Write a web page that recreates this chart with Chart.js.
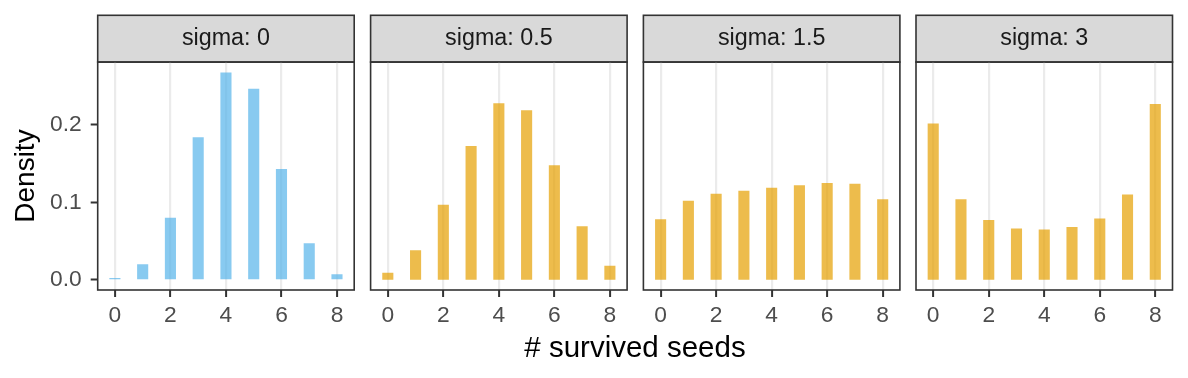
<!DOCTYPE html>
<html>
<head>
<meta charset="utf-8">
<script src="https://cdn.jsdelivr.net/npm/chart.js@4.4.1/dist/chart.umd.min.js"></script>
<style>
  html, body { margin: 0; padding: 0; background: #ffffff; }
  #wrap { position: relative; width: 1188px; height: 378px; overflow: hidden; background: #ffffff; }
  canvas { position: absolute; top: 0; }
  #xtitle { position: absolute; left: 335px; width: 600px; top: 332px; text-align: center;
            font-family: "Liberation Sans", Arial, sans-serif; font-size: 29.5px; line-height: 29.5px; color: #000; }
</style>
</head>
<body>
<div id="wrap">
  <canvas id="c0"></canvas>
  <canvas id="c1"></canvas>
  <canvas id="c2"></canvas>
  <canvas id="c3"></canvas>
  <div id="xtitle"># survived seeds</div>
</div>
<script>
// ---- data ----
const seeds = [0, 1, 2, 3, 4, 5, 6, 7, 8];
const sigmas = [0, 0.5, 1.5, 3];
const densSigma0   = [0.002, 0.020, 0.080, 0.184, 0.268, 0.247, 0.143, 0.047, 0.007];
const densSigma05  = [0.009, 0.038, 0.097, 0.173, 0.228, 0.219, 0.148, 0.069, 0.018];
const densSigma15  = [0.078, 0.102, 0.111, 0.115, 0.119, 0.122, 0.125, 0.124, 0.104];
const densSigma3   = [0.202, 0.104, 0.077, 0.066, 0.065, 0.068, 0.079, 0.110, 0.227];
const xTickValues = [0, 2, 4, 6, 8];
const yTickValues = [0, 0.1, 0.2];
const xAxisTitle = '# survived seeds';
const yAxisTitle = 'Density';

// ---- style / layout ----
const FONT = '"Liberation Sans", Arial, sans-serif';
const panelSeries = [densSigma0, densSigma05, densSigma15, densSigma3];
const panelColors = ['rgba(86,180,233,0.7)', 'rgba(230,159,0,0.7)', 'rgba(230,159,0,0.7)', 'rgba(230,159,0,0.7)'];
const panelLeft = [97.7, 370.6, 643.4, 916];
const panelWidth = 256.5;
const stripTop = 15.3;
const xAxisH = 88;     // 378 - 290
const yAxisW = 97.7;
const H = 378;

const allMax = Math.max(...panelSeries.flat());
const yMin = -allMax * 0.05, yMax = allMax * 1.05;
const xMin = -0.2 - 0.42, xMax = 8.2 + 0.42;

Chart.defaults.font.family = FONT;

const facetPlugin = {
  id: 'facet',
  beforeDraw(chart) {
    const ctx = chart.ctx, a = chart.chartArea;
    ctx.save();
    ctx.fillStyle = '#D9D9D9';
    ctx.fillRect(a.left, stripTop, a.right - a.left, a.top - stripTop);
    ctx.strokeStyle = '#333333';
    ctx.lineWidth = 1.6;
    ctx.strokeRect(a.left, stripTop, a.right - a.left, a.top - stripTop);
    ctx.restore();
  },
  afterDraw(chart) {
    const ctx = chart.ctx, a = chart.chartArea;
    ctx.save();
    ctx.strokeStyle = '#333333';
    ctx.lineWidth = 1.6;
    ctx.strokeRect(a.left, a.top, a.right - a.left, a.bottom - a.top);
    ctx.restore();
  }
};

for (let i = 0; i < 4; i++) {
  const first = i === 0;
  const L = panelLeft[i], R = L + panelWidth;
  const canvasLeft = first ? 0 : Math.floor(L) - 2;
  const canvasRight = Math.ceil(R) + 3;
  const W = canvasRight - canvasLeft;
  const cv = document.getElementById('c' + i);
  cv.width = W; cv.height = H;
  cv.style.left = canvasLeft + 'px';
  cv.style.width = W + 'px'; cv.style.height = H + 'px';

  const padLeft = first ? 0 : (L - canvasLeft);
  const padRight = canvasRight - R;

  new Chart(cv, {
    type: 'bar',
    data: {
      datasets: [{
        data: seeds.map((s, k) => ({ x: s, y: panelSeries[i][k] })),
        backgroundColor: panelColors[i],
        borderWidth: 0,
        categoryPercentage: 1.0,
        barPercentage: 0.4
      }]
    },
    options: {
      responsive: false,
      animation: false,
      devicePixelRatio: 1,
      layout: { padding: { left: padLeft, right: padRight, top: stripTop, bottom: 0 } },
      plugins: {
        legend: { display: false },
        tooltip: { enabled: false },
        title: {
          display: true,
          text: 'sigma: ' + sigmas[i],
          fullSize: false,
          color: '#1A1A1A',
          font: { size: 23.3, weight: 'normal', lineHeight: 1.2 },
          padding: { top: 9.4, bottom: 9.4 }
        }
      },
      scales: {
        x: {
          type: 'linear',
          min: xMin, max: xMax,
          offset: false,
          afterBuildTicks: (s) => { s.ticks = xTickValues.map(v => ({ value: v })); },
          afterFit: (s) => { s.height = xAxisH; },
          grid: {
            display: true, offset: false, drawOnChartArea: true,
            color: '#EBEBEB', lineWidth: 2.2,
            tickColor: '#333333', tickWidth: 2, tickLength: 7
          },
          border: { display: false },
          ticks: {
            color: '#4D4D4D', font: { size: 22.8 }, padding: 5,
            maxRotation: 0, autoSkip: false,
            callback: (v) => String(v)
          }
        },
        y: {
          type: 'linear',
          display: first,
          min: yMin, max: yMax,
          afterBuildTicks: (s) => { s.ticks = yTickValues.map(v => ({ value: v })); },
          afterFit: (s) => { s.width = first ? yAxisW : 0; },
          grid: {
            display: true, drawOnChartArea: false,
            tickColor: '#333333', tickWidth: 2, tickLength: 7
          },
          border: { display: false },
          ticks: {
            color: '#4D4D4D', font: { size: 22.8 }, padding: 9,
            callback: (v) => Number(v).toFixed(1)
          },
          title: {
            display: first, text: yAxisTitle, color: '#000000',
            font: { size: 28, weight: 'normal', lineHeight: 1.2 },
            padding: { top: 9, bottom: 0 }
          }
        }
      }
    },
    plugins: [facetPlugin]
  });
}
document.getElementById('xtitle').textContent = xAxisTitle;
</script>
</body>
</html>
